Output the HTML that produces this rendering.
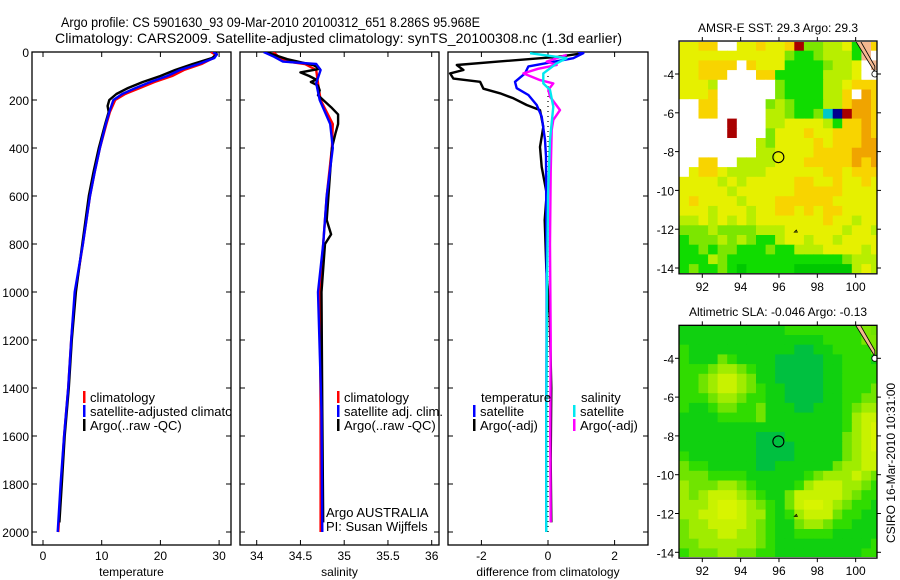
<!DOCTYPE html>
<html><head><meta charset="utf-8"><style>
body{margin:0;background:#fff}
svg{display:block;font-family:"Liberation Sans",sans-serif}
</style></head><body>
<svg id="fig" width="900" height="580" viewBox="0 0 900 580" xmlns="http://www.w3.org/2000/svg">
<defs>
<clipPath id="c1"><rect x="32" y="52" width="199" height="493"/></clipPath>
<clipPath id="c2"><rect x="240" y="52" width="199" height="493"/></clipPath>
<clipPath id="c3"><rect x="448" y="52" width="200" height="493"/></clipPath>
<clipPath id="m1"><rect x="679" y="42" width="198" height="231"/></clipPath>
<clipPath id="m2"><rect x="679" y="325" width="198" height="232"/></clipPath>
</defs>
<text x="61" y="27" font-size="13.5" textLength="419" lengthAdjust="spacingAndGlyphs">Argo profile: CS 5901630_93 09-Mar-2010 20100312_651 8.286S 95.968E</text>
<text x="55" y="43" font-size="14" textLength="567">Climatology: CARS2009. Satellite-adjusted climatology: synTS_20100308.nc (1.3d earlier)</text>
<g id="layers"></g>
</svg>
<script>
// ---- profile data ----
const tClimDepth=[0,10,25,50,75,100,125,150,175,200,250,300,400,500,600,800,1000,1200,1400,1600,1800,2000];
const tClimVal=[28.6,29.3,29.0,27.0,24.0,22.0,19.0,16.5,14.0,12.3,11.4,10.8,9.7,8.8,8.0,6.8,5.5,4.8,4.3,3.6,3.1,2.6];
const tSatVal=[29.0,29.6,29.2,26.5,23.3,21.2,18.3,15.8,13.5,12.0,11.3,10.7,9.7,8.8,8.0,6.8,5.4,4.8,4.3,3.6,3.0,2.5];
const tArgoDepth=[0,10,25,50,75,100,125,150,175,200,225,250,300,400,500,600,800,1000,1200,1400,1600,1800,1960];
const tArgoVal=[29.4,29.6,28.8,25.5,22.5,20.0,17.0,14.5,12.5,11.3,11.0,11.2,10.6,9.5,8.6,7.8,6.7,5.6,4.9,4.4,3.7,3.2,2.8];
const sClimDepth=[0,20,40,50,75,130,200,300,400,600,800,1000,1500,2000];
const sClimVal=[34.19,34.25,34.35,34.55,34.68,34.70,34.73,34.87,34.86,34.80,34.76,34.72,34.73,34.73];
const sSatVal=[34.08,34.2,34.3,34.68,34.73,34.68,34.72,34.84,34.87,34.80,34.76,34.70,34.74,34.75];
const sArgoDepth=[0,30,55,70,85,100,115,125,140,160,180,230,260,300,340,400,700,760,800,1000,1500,1960];
const sArgoVal=[34.1,34.35,34.65,34.72,34.5,34.6,34.68,34.62,34.7,34.72,34.7,34.85,34.93,34.93,34.9,34.86,34.8,34.85,34.78,34.74,34.75,34.76];
const dTSatDepth=[0,5,26,60,89,124,151,179,221,269,366,435,700,1000,1500,2000];
const dTSatVal=[0.9,1.06,0.76,-0.59,-0.69,-0.99,-0.94,-0.59,-0.34,-0.19,-0.09,-0.06,-0.05,-0.04,-0.05,-0.05];
const dTArgoDepth=[5,20,40,54,75,89,111,124,153,172,193,221,242,312,396,479,590,700,900,1100,1400,1700,1960];
const dTArgoVal=[1.06,0.3,-1.5,-2.74,-2.54,-2.94,-2.84,-2.04,-1.94,-1.44,-1.04,-0.64,-0.24,-0.14,-0.24,-0.19,-0.04,-0.1,-0.05,0.05,0.1,0.08,0.1];
const dSSatDepth=[5,26,47,89,131,158,228,366,600,1000,1500,2000];
const dSSatVal=[-0.54,0.56,0.26,-0.14,-0.14,0.06,0.16,0.06,0.0,-0.03,-0.05,-0.05];
const dSArgoDepth=[12,40,54,70,89,117,131,158,186,242,283,325,500,800,1200,1600,1960];
const dSArgoVal=[0.56,-0.04,0.26,-0.3,-0.74,-0.24,0.16,0.01,0.06,0.36,0.16,0.11,0.08,0.06,0.08,0.07,0.08];
const depthTicks=[0,200,400,600,800,1000,1200,1400,1600,1800,2000];
const tTicks=[0,10,20,30];
const sTicks=[34,34.5,35,35.5,36];
const sTickLabels=["34","34.5","35","35.5","36"];
const dTicks=[-2,0,2];
// ---- map data (0.5 deg cells, rows from north) ----
const sstRows=["YYOOWWYYOYYORggLLYGSO","YYYYYYYYYYYgGGgLLLGSW","YYOOOOWOYYYGGGGgLLYWS","YYOOOWWWOOGGGGGLLLYWW","YYYLWWWWWWgGGGGLLYOOO","YYYOWWWWWWgGGGGLLOWoO","WWOOWWWWWgLgGGGLLOooO","WWOOWWWWWLLgGGgCBRooO","WWWWWRWWWLLYYYYLGOOoO","WWWWWRWWWgYYYOYYOOOoO","WWWWWWWWLgYYYYOYOOOoo","WWWWWWWWLLYYYYOOOOooo","WWOOWWLLLLYYYOOOOOoOo","WYOOYLLLLYYYYYYOOYOOO","YYYYLYLYYYYYOOYYOYYOY","YYYYYLYYYYYYOOOOOYYYY","YOYYYYLYYYOOOOOOYYYYY","YYYLYYYLYYOOYOYOOYYYY","LLYLYLYLYYYYYYYOYYLYY","gggLggggLLLYYYYYYLYYL","GgggLgLgGGLYYLYYLYYYY","GGgGggGGGgGGLLLYYYYLY","GGGLgGGGGGGGGGGGGgLLL","GgGGgGDGGGGGDDDDDDLYL"];
const slaRows=["NNNNNNNNNNNGGGGGGGGSg","NNNNNNNNNNNNNNNGGGGSS","GNNNNNNNNNNNMMNNGGGGS","GNNNgGNNNNMMMMMNNGGGN","GGGgLLgGNNMMMMMNNGGGG","GGgLYYLgNNMMMMMNNGGGG","GGgLYYLgGNNMMMMNNGGGg","GGGgLLgGGNNMMMMNNGGgg","GNNGggGGgNNNMMNNNGgLL","NNNNGGGGgNNNNNNNNGLYY","NNNNNNNNNNNNNNNNNGLYy","NNNNNNNNMMMNNNNNNgLYy","NNNNNNNNMMMMNNNNNgLYy","GNNNNNNNMMMMNNNNNgLYY","gGGNNNNNMMNNNNNNgLLYY","gggGGGGNNNNNNGgLLLYLg","LgggLLgGNNNNGLYYYLLgG","LgLYYYLgGNNgYYYYYLgGG","LLLYyyYLgGNgYyyYLgGGN","LLYYyyYLLGNGLYYYgGGNN","gLLYYYYLgGNNgLLgGGNNN","gLLLYYLLgGNNGGGGNNNNN","ggLLLLLLgGNNNNNNNNNNG","GgggLLggGGNNNNNNNNNGG"];
const lonTicks=[92,94,96,98,100];
const latTicks=[-4,-6,-8,-10,-12,-14];
const argoLon=95.968, argoLat=-8.286;

const sstCol={Y:"#e6f000",O:"#f8d400",o:"#f0a400",L:"#b8ee00",g:"#7ce600",G:"#10dc00",D:"#00c800",W:"#ffffff",R:"#a80000",C:"#00c8c8",B:"#000090",S:"#f4b890"};
const slaCol={M:"#00c040",N:"#10d010",G:"#30dc00",g:"#70e400",L:"#a0ec00",Y:"#c8f200",y:"#d8f400",S:"#7ce600"};

const NS="http://www.w3.org/2000/svg";
const root=document.getElementById("layers");
function mk(tag,attrs,parent){const e=document.createElementNS(NS,tag);for(const k in attrs)e.setAttribute(k,attrs[k]);(parent||root).appendChild(e);return e;}
const yD=d=>52+0.24*d;
const xT=v=>43+5.87*v;
const xS=v=>256.7+87.5*(v-34);
const xDf=v=>548+33.3*v;

function panel(x0,name,xs,ticks,labels,xlabel){
  const g=mk("g",{});
  
  
  const w=(x0==448?200:199);
  const fr=mk("rect",{x:x0,y:52,width:w,height:493,fill:"none",stroke:"#000","stroke-width":1.3},g);
  
  
  depthTicks.forEach(d=>{
    mk("line",{x1:x0,x2:x0+5,y1:yD(d),y2:yD(d),stroke:"#000"},g);
    mk("line",{x1:x0+w-5,x2:x0+w,y1:yD(d),y2:yD(d),stroke:"#000"},g);
  });
  ticks.forEach((t,i)=>{
    const x=xs(t);
    mk("line",{x1:x,x2:x,y1:52,y2:57,stroke:"#000"},g);
    mk("line",{x1:x,x2:x,y1:540,y2:545,stroke:"#000"},g);
    const tl=mk("text",{x:x,y:560,"font-size":12,"text-anchor":"middle"},g);
    tl.textContent=labels[i];
    
    
  });
  const xl=mk("text",{x:x0+w/2,y:576,"font-size":12,"text-anchor":"middle"},g);
  xl.textContent=xlabel;
  
  
  return g;
}
panel(32,"temperature-panel",xT,tTicks,tTicks.map(String),"temperature");
panel(240,"salinity-panel",xS,sTicks,sTickLabels,"salinity");
panel(448,"difference-panel",xDf,dTicks,dTicks.map(String),"difference from climatology");
depthTicks.forEach(d=>{
  const t=mk("text",{x:29,y:yD(d)+5,"font-size":12,"text-anchor":"end"});
  t.textContent=String(d);
  
  
});
function line(depths,vals,xs,color,clip,name,w){
  const pts=depths.map((d,i)=>xs(vals[i]).toFixed(1)+","+yD(d).toFixed(1)).join(" ");
  const e=mk("polyline",{points:pts,fill:"none",stroke:color,"stroke-width":w||2.4,"clip-path":"url(#"+clip+")","stroke-linejoin":"round"});
  
  
}
line(tClimDepth,tClimVal,xT,"#ff0000","c1","temp-climatology-line");
line(tArgoDepth,tArgoVal,xT,"#000","c1","temp-argo-line");
line(tClimDepth,tSatVal,xT,"#0000ff","c1","temp-satellite-line");
line(sClimDepth,sClimVal,xS,"#ff0000","c2","sal-climatology-line");
line(sArgoDepth,sArgoVal,xS,"#000","c2","sal-argo-line");
line(sClimDepth,sSatVal,xS,"#0000ff","c2","sal-satellite-line");
const zl=mk("line",{x1:xDf(0),x2:xDf(0),y1:yD(100),y2:yD(2000),stroke:"#000","stroke-dasharray":"1,4","stroke-width":1.2});


line(dTArgoDepth,dTArgoVal,xDf,"#000","c3","diff-temp-argo-line");
line(dTSatDepth,dTSatVal,xDf,"#0000ff","c3","diff-temp-satellite-line");
line(dSArgoDepth,dSArgoVal,xDf,"#ff00ff","c3","diff-sal-argo-line");
line(dSSatDepth,dSSatVal,xDf,"#00e8f0","c3","diff-sal-satellite-line");

function legend(x,y,color,label,name,clip){
  const g=mk("g",clip?{"clip-path":"url(#"+clip+")"}:{});
  
  
  if(color) mk("rect",{x:x,y:y-11,width:2.5,height:12,fill:color},g);
  const t=mk("text",{x:x+(color?7:0),y:y,"font-size":13},g);
  t.textContent=label;
}
legend(83,402,"#ff0000","climatology","legend-climatology");
legend(83,416,"#0000ff","satellite-adjusted climatology","legend-satellite-adjusted","c1");
legend(83,430,"#000","Argo(..raw -QC)","legend-argo");
legend(337,402,"#ff0000","climatology","legend-sal-climatology");
legend(337,416,"#0000ff","satellite adj. clim.","legend-sal-satellite");
legend(337,430,"#000","Argo(..raw -QC)","legend-sal-argo");
legend(481,402,null,"temperature","legend-temperature-heading");
legend(473,416,"#0000ff","satellite","legend-temp-satellite");
legend(473,430,"#000","Argo(-adj)","legend-temp-argo");
legend(581,402,null,"salinity","legend-salinity-heading");
legend(573,416,"#00e8f0","satellite","legend-sal-satellite-diff");
legend(573,430,"#ff00ff","Argo(-adj)","legend-sal-argo-diff");
legend(326,517,null,"Argo AUSTRALIA","argo-australia-label");
legend(326,531,null,"PI: Susan Wijffels","pi-label");

function map(rows,cols,top,clip,name,title,ty){
  const mx=lon=>702.3+19.17*(lon-92);
  const my=lat=>top+19.4*(-4-lat);
  const g=mk("g",{});
  
  
  const cg=mk("g",{"clip-path":"url(#"+clip+")"},g);
  rows.forEach((row,r)=>{
    for(let i=0;i<row.length;i++){
      const lon0=90.8+0.5*i, lat0=-2.3-0.5*r;
      const x=mx(lon0), y=my(lat0);
      const c=mk("rect",{x:x.toFixed(1),y:y.toFixed(1),width:10.2,height:10.3,fill:cols[row[i]]},cg);
      
      
    }
  });
  // thin coastline sliver
  const cs=mk("path",{d:`M${mx(100.0)} ${my(-2.3)} L${mx(100.25)} ${my(-2.3)} L${mx(101.0)} ${my(-3.6)} L${mx(101.0)} ${my(-3.9)} Z`,fill:"#f4b890",stroke:"#000","stroke-width":0.8},cg);
  
  
  mk("circle",{cx:mx(101.0),cy:my(-4.0),r:3,fill:"#fff",stroke:"#000","stroke-width":0.8},cg);
  mk("path",{d:`M${mx(96.8)} ${my(-12.15)} l2 -2 l1 2 z`,fill:"none",stroke:"#000","stroke-width":0.8},cg);
  const y0=my(-2.3), y1=top+19.4*(-4+14.3);
  mk("rect",{x:679,y:y0,width:198,height:y1-y0,fill:"none",stroke:"#000","stroke-width":1.3},g);
  lonTicks.forEach(l=>{
    const x=mx(l);
    mk("line",{x1:x,x2:x,y1:y0-4,y2:y0,stroke:"#000"},g);
    mk("line",{x1:x,x2:x,y1:y1,y2:y1+4,stroke:"#000"},g);
    const t=mk("text",{x:x,y:y1+17,"font-size":12,"text-anchor":"middle"},g);
    t.textContent=String(l);
    
    
  });
  latTicks.forEach(l=>{
    const y=my(l);
    mk("line",{x1:675,x2:679,y1:y,y2:y,stroke:"#000"},g);
    mk("line",{x1:877,x2:881,y1:y,y2:y,stroke:"#000"},g);
    const t=mk("text",{x:674,y:y+5,"font-size":12,"text-anchor":"end"},g);
    t.textContent=String(l);
    
    
  });
  const ci=mk("circle",{cx:mx(argoLon),cy:my(argoLat),r:5.5,fill:"none",stroke:"#000","stroke-width":1.1},g);
  
  
  const tt=mk("text",{x:778,y:ty,"font-size":12,"text-anchor":"middle"},g);
  tt.textContent=title;
  
  
}
map(sstRows,sstCol,74,"m1","sst-map","AMSR-E SST: 29.3 Argo: 29.3",32);
map(slaRows,slaCol,358.3,"m2","sla-map","Altimetric SLA: -0.046 Argo: -0.13",316);
const cr=mk("text",{x:0,y:0,"font-size":12,"text-anchor":"middle",transform:"translate(895,463) rotate(-90)"});
cr.textContent="CSIRO 16-Mar-2010 10:31:00";


</script>
</body></html>
